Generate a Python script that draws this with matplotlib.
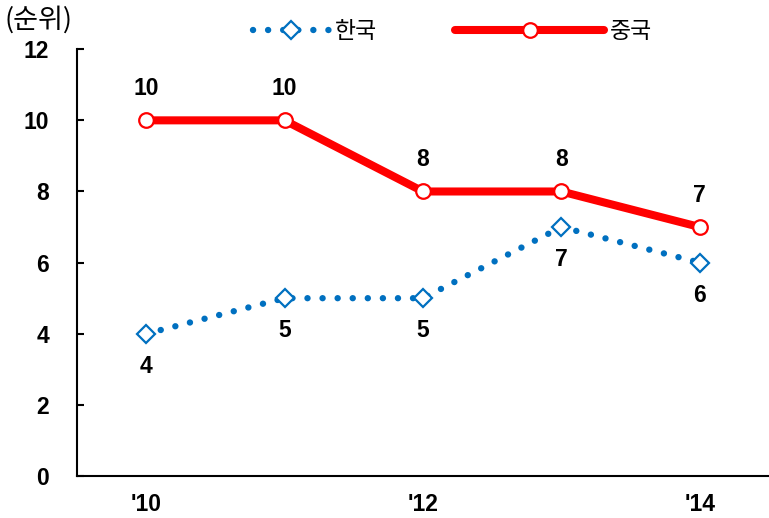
import matplotlib
matplotlib.use('Agg')
import matplotlib.pyplot as plt

plt.rcParams['font.family'] = ['Liberation Sans', 'Noto Sans CJK KR', 'DejaVu Sans']

years = ["'10", "'11", "'12", "'13", "'14"]
tick_labels = ["'10", "", "'12", "", "'14"]
korea = [4, 5, 5, 7, 6]
china = [10, 10, 8, 8, 7]

blue = '#0070C0'
red = '#FF0000'

fig = plt.figure(figsize=(7.69, 5.18), dpi=100)
ax = fig.add_axes([0.100, 0.081, 0.90, 0.824])

x = list(range(len(years)))

ax.plot(x, korea, color=blue, linewidth=4.6, linestyle=(0, (0.01, 2.35)),
        dash_capstyle='round', marker='D', markersize=9.5,
        markerfacecolor='white', markeredgecolor=blue, markeredgewidth=1.6,
        label='한국', zorder=3)
ax.plot(x, china, color=red, linewidth=5.8, solid_capstyle='round',
        marker='o', markersize=10.5, markerfacecolor='white',
        markeredgecolor=red, markeredgewidth=1.6, label='중국', zorder=4)

for xi, v in zip(x, china):
    ax.annotate(str(v), (xi, v), xytext=(0, 22.7), textcoords='offset points',
                ha='center', va='center', fontsize=16.5, fontweight='bold')
for xi, v in zip(x, korea):
    ax.annotate(str(v), (xi, v), xytext=(0, -23.4), textcoords='offset points',
                ha='center', va='center', fontsize=16.5, fontweight='bold')

ax.set_xlim(-0.5, 4.5)
ax.set_ylim(0, 12)
ax.set_yticks(range(0, 13, 2))
ax.set_xticks(x)
ax.set_xticklabels(tick_labels)
ax.tick_params(axis='y', direction='in', length=5, width=1.5, labelsize=16.5, pad=20)
ax.tick_params(axis='x', length=0, labelsize=16.5, pad=12)
for lab in ax.get_xticklabels() + ax.get_yticklabels():
    lab.set_fontweight('bold')

for side in ['top', 'right']:
    ax.spines[side].set_visible(False)
ax.spines['left'].set_linewidth(1.5)
ax.spines['bottom'].set_linewidth(1.5)

fig.text(0.006, 0.962, '(순위)', fontsize=19.5, ha='left', va='center',
         family=['Noto Sans CJK KR', 'DejaVu Sans'])

h, l = ax.get_legend_handles_labels()
leg1 = fig.legend([h[0]], [l[0]], loc='center', bbox_to_anchor=(0.41, 0.94),
                  frameon=False, handlelength=3.3, handletextpad=0.25,
                  prop={'family': 'Noto Sans CJK KR', 'size': 16.5})
leg2 = fig.legend([h[1]], [l[1]], loc='center', bbox_to_anchor=(0.72, 0.94),
                  frameon=False, handlelength=6.5, handletextpad=0.25,
                  prop={'family': 'Noto Sans CJK KR', 'size': 16.5})

fig.savefig('out.png', dpi=100)
